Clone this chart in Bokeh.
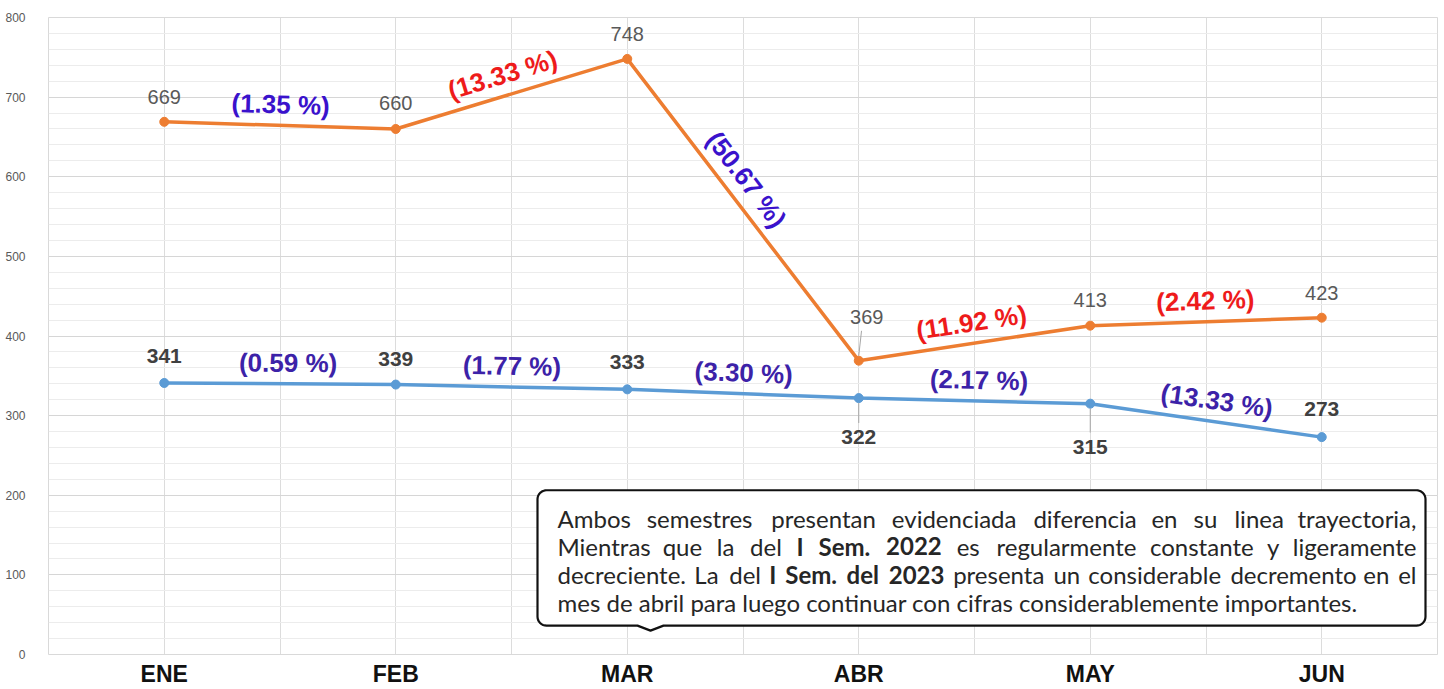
import math
from bokeh.plotting import figure
from bokeh.models import FixedTicker, Range1d
from bokeh.core.properties import value
from bokeh.embed import file_html
from bokeh.resources import INLINE

# ---------------- data ----------------
months = ["ENE", "FEB", "MAR", "ABR", "MAY", "JUN"]
sem_2023 = [669, 660, 748, 369, 413, 423]   # orange series
sem_2022 = [341, 339, 333, 322, 315, 273]   # blue series
y_ticks = [0, 100, 200, 300, 400, 500, 600, 700, 800]
y_minor = list(range(0, 801, 20))

note_lines = [
    [("Ambos", 0), ("semestres", 0), ("presentan", 0), ("evidenciada", 0), ("diferencia", 0),
     ("en", 0), ("su", 0), ("linea", 0), ("trayectoria,", 0)],
    [("Mientras", 0), ("que", 0), ("la", 0), ("del", 0), ("I", 1), ("Sem.", 1), ("2022", 1),
     ("es", 0), ("regularmente", 0), ("constante", 0), ("y", 0), ("ligeramente", 0)],
    [("decreciente.", 0), ("La", 0), ("del", 0), ("I", 1), ("Sem.", 1), ("del", 1), ("2023", 1),
     ("presenta", 0), ("un", 0), ("considerable", 0), ("decremento", 0), ("en", 0), ("el", 0)],
]
note_last = "mes de abril para luego continuar con cifras considerablemente importantes."

# ---------------- geometry ----------------
W, H = 1444, 689
BL, BR, BT, BB = 48, 7, 17, 32
FL, FR, FT, FB = BL, W - BR, BT, H - BB   # canvas px of frame
PX_X = (FR - FL) / 6.0
PX_Y = (FB - FT) / 800.0

# reference frame mapping for annotation placement
RL, RR, RT, RB = 48, 1437, 17, 657
def rx(px):
    return -0.5 + (px - RL) / (RR - RL) * 6.0
def ry(py):
    return (RB - py) / (RB - RT) * 800.0

p = figure(width=W, height=H, x_range=Range1d(-0.5, 5.5), y_range=Range1d(0, 800),
           output_backend="svg", toolbar_location=None,
           min_border_left=BL, min_border_right=BR, min_border_top=BT, min_border_bottom=BB)
p.outline_line_color = "#d9d9d9"
p.background_fill_color = "white"
p.border_fill_color = "white"

# grids
p.xgrid.ticker = FixedTicker(ticks=[-0.5 + 0.5 * i for i in range(13)])
p.xgrid.grid_line_color = "#dcdcdc"
p.ygrid.ticker = FixedTicker(ticks=y_ticks, minor_ticks=y_minor)
p.ygrid.grid_line_color = "#d6d6d6"
p.ygrid.minor_grid_line_color = "#ececec"

# axes
p.xaxis.ticker = FixedTicker(ticks=list(range(len(months))))
p.xaxis.major_label_overrides = {i: m for i, m in enumerate(months)}
p.xaxis.major_label_text_font = "Liberation Sans"
p.xaxis.major_label_text_font_style = "bold"
p.xaxis.major_label_text_font_size = "23px"
p.xaxis.major_label_text_color = "#111111"
p.xaxis.major_label_standoff = 0
p.yaxis.ticker = FixedTicker(ticks=y_ticks)
p.yaxis.major_label_text_font = "Liberation Sans"
p.yaxis.major_label_text_font_size = "12px"
p.yaxis.major_label_text_color = "#595959"
p.yaxis.major_label_standoff = 17
for ax in (p.xaxis, p.yaxis):
    ax.axis_line_color = None
    ax.major_tick_line_color = None
    ax.minor_tick_line_color = None

xs = list(range(len(months)))

# lines
p.line(xs, sem_2023, line_color="#ED7D31", line_width=3.5)
p.scatter(xs, sem_2023, size=9, fill_color="#ED7D31", line_color="#ED7D31")
p.line(xs, sem_2022, line_color="#5B9BD5", line_width=3.5)
p.scatter(xs, sem_2022, size=9, fill_color="#5B9BD5", line_color="#5B9BD5")

# data labels (pixel offsets: negative = above)
off_2023 = [-25, -26, -25, -44, -26, -25]
dx_2023 = [0, 0, 0, 8, 0, 0]
off_2022 = [-27, -26, -27, 39, 43, -28]
p.text(xs, sem_2023, text=[str(v) for v in sem_2023], x_offset=dx_2023, y_offset=off_2023,
       text_font=value("Liberation Sans"), text_font_size="20px", text_color="#595959",
       text_align="center", text_baseline="middle")
p.text(xs, sem_2022, text=[str(v) for v in sem_2022], y_offset=off_2022,
       text_font=value("Liberation Sans"), text_font_size="21px", text_font_style="bold",
       text_color="#404040", text_align="center", text_baseline="middle")

# leader lines for labels far from their point
for vals, offs in ((sem_2023, off_2023), (sem_2022, off_2022)):
    for i, (v, o) in enumerate(zip(vals, offs)):
        if abs(o) > 35:
            sgn = 1 if o > 0 else -1
            y0 = v - sgn * 5 / PX_Y
            y1 = v - sgn * (abs(o) - 14) / PX_Y
            p.segment(x0=[i], y0=[y0], x1=[i + (0.012 if o < 0 else 0)], y1=[y1],
                      line_color="#a6a6a6", line_width=1)

# percentage change labels
def pct_labels(vals, dec_color, along):
    X, Y, T, A, XO, YO, C = [], [], [], [], [], [], []
    for i in range(len(vals) - 1):
        v0, v1 = vals[i], vals[i + 1]
        pct = (v1 - v0) / v0 * 100
        ang = math.atan2((v1 - v0) * PX_Y, PX_X)
        off = 21
        X.append(i + 0.5)
        Y.append((v0 + v1) / 2)
        T.append("({:.2f} %)".format(abs(pct)))
        A.append(ang)
        XO.append(-math.sin(ang) * off + math.cos(ang) * along[i])
        YO.append(-math.cos(ang) * off - math.sin(ang) * along[i])
        C.append("#EE1B1B" if pct > 0 else dec_color)
    p.text(X, Y, text=T, angle=A, x_offset=XO, y_offset=YO, text_color=C,
           text_font=value("Liberation Sans"), text_font_size="26px", text_font_style="bold",
           text_align="center", text_baseline="middle")

pct_labels(sem_2023, "#3A12CC", [0, -3, -22, 0, 0])
pct_labels(sem_2022, "#3C22A8", [8, 0, 0, 4, 8])

# callout box (rounded rectangle with a small tail)
bl, br, bt, bb, rad = 537, 1425, 492, 628, 9
pts = []
def arc(cx, cy, a0, a1, n=8):
    for k in range(n + 1):
        a = math.radians(a0 + (a1 - a0) * k / n)
        pts.append((cx + rad * math.cos(a), cy - rad * math.sin(a)))
arc(br - rad, bt + rad, 90, 0)
arc(br - rad, bb - rad, 0, -90)
pts += [(663, bb), (650, bb + 5), (637, bb)]
arc(bl + rad, bb - rad, -90, -180)
arc(bl + rad, bt + rad, 180, 90)
p.patch([rx(a) for a, b in pts], [ry(b) for a, b in pts], fill_color="white",
        line_color="#111111", line_width=2.2)

# callout text (justified word by word, approximate glyph advances)
REG = dict(zip("abcdefghijklmnopqrstuvwxyz",
               [556, 556, 500, 556, 556, 278, 556, 556, 222, 222, 500, 222, 833, 556, 556, 556, 556,
                333, 500, 278, 556, 500, 722, 500, 500, 500]))
REG.update(dict(zip("ABCDEFGHIJKLMNOPQRSTUVWXYZ",
                    [667, 667, 722, 722, 667, 611, 778, 722, 278, 500, 667, 556, 833, 722, 778, 667,
                     778, 722, 667, 611, 722, 667, 944, 667, 667, 611])))
REG.update({".": 278, ",": 278, " ": 278})
REG.update({d: 556 for d in "0123456789"})
BOLD = {"I": 300, "S": 560, "e": 540, "m": 850, ".": 240, "d": 590, "l": 260}
BOLD.update({d: 580 for d in "0123456789"})
FS = 24
K_REG, K_BOLD = 0.98, 1.0

def wwidth(w, b):
    tab = BOLD if b else REG
    return sum(tab.get(c, 556) for c in w) * FS / 1000.0 * (K_BOLD if b else K_REG)

TL, TR = 557, 1416
baselines = [520, 548, 577, 605]
for line, base in zip(note_lines, baselines):
    widths = [wwidth(w, b) for w, b in line]
    gap = (TR - TL - sum(widths)) / (len(line) - 1)
    xpos = TL
    for j, ((w, b), wd) in enumerate(zip(line, widths)):
        last = j == len(line) - 1
        p.text([rx(TR if last else xpos)], [ry(base)], text=[w],
               text_font=value("Lato"), text_font_size=f"{FS}px",
               text_font_style="bold" if b else "normal", text_color="#262626",
               text_align="right" if last else "left", text_baseline="alphabetic")
        xpos += wd + gap
p.text([rx(TL)], [ry(baselines[3])], text=[note_last], text_font=value("Lato"),
       text_font_size=f"{FS}px", text_color="#262626", text_align="left",
       text_baseline="alphabetic")

open("out.html", "w").write(file_html(p, INLINE))
